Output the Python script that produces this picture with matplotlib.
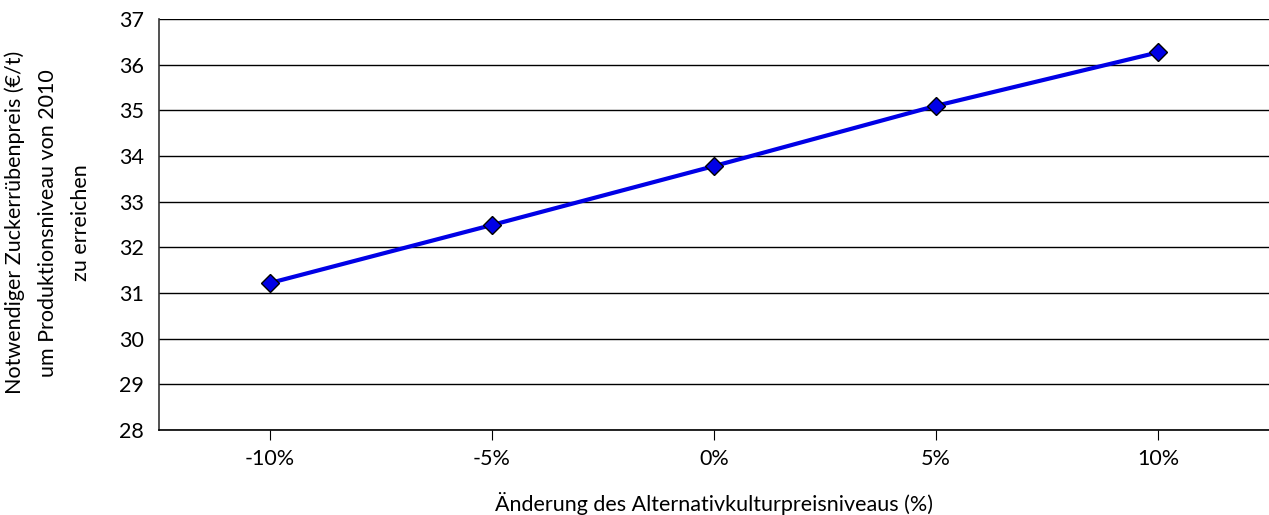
import matplotlib.pyplot as plt

plt.rcParams["font.family"] = ["Lato", "DejaVu Sans"]

kategorien = ["-10%", "-5%", "0%", "5%", "10%"]
preis = [31.22, 32.49, 33.78, 35.10, 36.27]
ylabel_zeilen = ["Notwendiger Zuckerrübenpreis (€/t)",
                 "um Produktionsniveau von 2010",
                 "zu erreichen"]

fig = plt.figure(figsize=(12.69, 5.15), dpi=100)
ax = fig.add_axes([0.1253, 0.165, 0.8747, 0.798])

x = range(len(kategorien))
ax.plot(x, preis, color="#0000e6", linewidth=3, marker="D", markersize=9.5,
        markerfacecolor="#0000e6", markeredgecolor="black", markeredgewidth=1, zorder=3)

ax.set_xlim(-0.5, len(kategorien) - 0.5)
ax.set_ylim(28, 37)
ax.set_yticks(range(28, 38))
ax.set_xticks(list(x))
ax.set_xticklabels(kategorien)

ax.grid(True, axis="y", color="black", linewidth=1)
ax.set_axisbelow(True)

for s in ["top", "right"]:
    ax.spines[s].set_visible(False)
ax.spines["left"].set_linewidth(1.2)
ax.spines["left"].set_color("#333333")
ax.spines["bottom"].set_linewidth(1.2)

ax.tick_params(axis="y", length=0, labelsize=15.5, pad=11)
ax.tick_params(axis="x", length=7, direction="out", labelsize=15.5, pad=7)

ax.set_xlabel("Änderung des Alternativkulturpreisniveaus (%)", fontsize=15.5, labelpad=16)

# y-Beschriftung in drei Zeilen
for xpix, zeile in zip([15, 48, 81], ylabel_zeilen):
    fig.text(xpix / 1269, 0.5675, zeile, rotation=90, ha="center", va="center", fontsize=15.5)

fig.savefig("out.png", dpi=100)
